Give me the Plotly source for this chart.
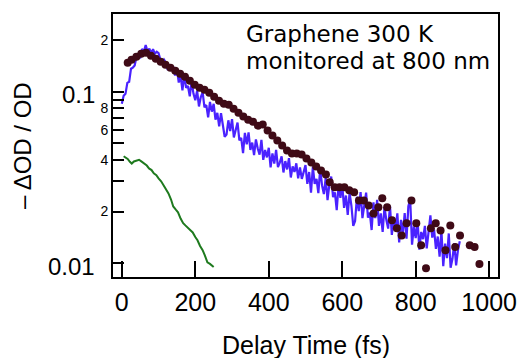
import math
import plotly.graph_objects as go

# ---------------- data ----------------
# brown dots: Graphene 300 K, probe 800 nm
dots_t = [16, 26.5, 39.7, 52.9, 66.1, 79.4, 92.6, 105.8, 119, 132.3, 145.5, 158.7,
          171.9, 185.2, 198.4, 211.6, 224.9, 238.1, 251.3, 264.6, 277.8, 291, 304.2,
          317.5, 330.7, 343.9, 357.1, 370.4, 383.6, 396.8, 410, 423.3, 436.5, 449.7,
          463, 476.2, 489.4, 502.6, 515.9, 529.1, 542.3, 555.6, 566, 579.4, 592.6,
          605.8, 619, 632.3, 645.5, 658.7, 672, 685.2, 698.4, 709, 722.2, 735.4,
          748.7, 761.9, 775.1, 788.4, 801.6, 814.8, 828, 841.3, 854.5, 867.7, 881,
          894.2, 907.4, 920.6, 947.1, 960.3, 973.5]
dots_v = [0.1474, 0.1535, 0.1598, 0.1663, 0.1685, 0.162, 0.1555, 0.1494, 0.1435,
          0.1379, 0.1325, 0.1272, 0.1222, 0.1159, 0.1098, 0.1055, 0.1027, 0.0987,
          0.0935, 0.0886, 0.0851, 0.084, 0.0796, 0.0755, 0.0716, 0.0687, 0.0669,
          0.0634, 0.0643, 0.0593, 0.0555, 0.0519, 0.0485, 0.0454, 0.0436, 0.0436,
          0.043, 0.0408, 0.0387, 0.0366, 0.0347, 0.0329, 0.0296, 0.0277, 0.0277,
          0.0277, 0.0266, 0.0259, 0.0232, 0.0232, 0.0217, 0.0195, 0.0212, 0.0239,
          0.0212, 0.0178, 0.016, 0.0145, 0.0171, 0.0232, 0.0171, 0.0127, 0.00935,
          0.016, 0.0171, 0.0155, 0.0119, 0.0166, 0.0124, 0.0145, 0.0127, 0.0124,
          0.00987]

# blue trace (5 fs sampling)
blue_t = list(range(0, 925, 5))
blue_v = [
    # 0 - 145 fs
    0.085, 0.0946, 0.0972, 0.1126, 0.1142, 0.1362, 0.1383, 0.1421, 0.160, 0.1629,
    0.1567, 0.1778, 0.1715, 0.1869, 0.1716, 0.1784, 0.1673, 0.1768, 0.1667, 0.1712,
    0.1677, 0.1541, 0.1469, 0.1538, 0.1478, 0.134, 0.1446, 0.1333, 0.1399, 0.1244,
    # 150 - 495 fs
    0.1361, 0.1132, 0.1236, 0.1018, 0.1254, 0.1055, 0.108, 0.0939, 0.1154, 0.0975,
    0.0892, 0.1013, 0.082, 0.093, 0.099, 0.0811, 0.0836, 0.0709, 0.0872, 0.0765,
    0.085, 0.0687, 0.0753, 0.0627, 0.0749, 0.0656, 0.0546, 0.0562, 0.0681, 0.059,
    0.0691, 0.0541, 0.0596, 0.0661, 0.052, 0.0538, 0.0438, 0.0575, 0.0494, 0.0579,
    0.0457, 0.0505, 0.0427, 0.0527, 0.0466, 0.0429, 0.0523, 0.040, 0.0457, 0.0414,
    0.0471, 0.0362, 0.0437, 0.0381, 0.0458, 0.0363, 0.0386, 0.042, 0.0338, 0.0394,
    0.0352, 0.041, 0.0316, 0.0367, 0.034, 0.0382, 0.0312, 0.0362, 0.031, 0.0337,
    # 500 - 920 fs
    0.0373, 0.029, 0.034, 0.0258, 0.0365, 0.029, 0.031, 0.0256, 0.0356, 0.0284,
    0.0253, 0.0314, 0.0233, 0.0288, 0.032, 0.0243, 0.0259, 0.0204, 0.0286, 0.024,
    0.0285, 0.021, 0.0248, 0.0191, 0.0258, 0.0216, 0.0165, 0.0176, 0.0244, 0.0201,
    0.026, 0.0183, 0.0218, 0.0258, 0.0184, 0.0197, 0.0156, 0.0226, 0.0183, 0.0234,
    0.0165, 0.0195, 0.0152, 0.0213, 0.0179, 0.0159, 0.0216, 0.0146, 0.0181, 0.0158,
    0.0195, 0.0132, 0.0179, 0.0147, 0.0196, 0.0139, 0.0215, 0.0235, 0.0128, 0.0164,
    0.014, 0.0177, 0.012, 0.0152, 0.0138, 0.0165, 0.0122, 0.0155, 0.019, 0.0141,
    0.0157, 0.0121, 0.0143, 0.0109, 0.0155, 0.0096, 0.013, 0.0107, 0.0149, 0.0094,
    0.0106, 0.0131, 0.0097, 0.0119, 0.0134]

# green trace
green_t = [5, 10, 16, 22, 27, 33, 40, 47, 54, 61, 68, 74, 81, 87, 94, 100, 107, 114,
           120, 127, 134, 140, 147, 153, 160, 167, 173, 180, 186, 193, 200, 206, 213,
           220, 226, 233, 240, 246, 250]
green_v = [0.042, 0.0415, 0.0405, 0.039, 0.0381, 0.0392, 0.0398, 0.0401, 0.0391,
           0.0382, 0.0371, 0.0357, 0.0349, 0.0334, 0.0326, 0.0312, 0.0300, 0.0284,
           0.0272, 0.0255, 0.0235, 0.0214, 0.0205, 0.0198, 0.0182, 0.0171, 0.0166,
           0.0160, 0.0157, 0.0151, 0.0142, 0.0136, 0.0126, 0.0119, 0.0111, 0.0101,
           0.0099, 0.0097, 0.0095]

x_ticks = [0, 200, 400, 600, 800, 1000]
y_ticks = [0.01, 0.02, 0.03, 0.04, 0.05, 0.06, 0.07, 0.08, 0.09, 0.1, 0.2]
y_ticktext = ['', '2', '', '4', '', '6', '', '8', '', '', '2']
y_big_labels = [(0.1, '0.1'), (0.01, '0.01')]
x_range = [-24, 1024]
y_range = [0.0083, 0.284]

AX_FONT = 'Liberation Sans, Arial, sans-serif'

fig = go.Figure()
fig.add_trace(go.Scatter(x=green_t, y=green_v, mode='lines',
                         line=dict(color='#1e7a1e', width=2), showlegend=False))
fig.add_trace(go.Scatter(x=blue_t, y=blue_v, mode='lines',
                         line=dict(color='#4a22ff', width=2.2), showlegend=False))
fig.add_trace(go.Scatter(x=dots_t, y=dots_v, mode='markers',
                         marker=dict(color='#3f0a16', size=8), showlegend=False))

fig.update_layout(
    width=529, height=358,
    margin=dict(l=113, r=20, t=13, b=81),
    paper_bgcolor='white', plot_bgcolor='white',
    font=dict(family=AX_FONT, color='black'),
    xaxis=dict(range=x_range, tickvals=x_ticks, ticks='inside', ticklen=16,
               tickwidth=2, tickcolor='black', showline=True, linecolor='black',
               linewidth=2, mirror=True, showgrid=False, zeroline=False,
               tickfont=dict(size=25, family=AX_FONT), ticklabelstandoff=2),
    yaxis=dict(type='log', range=[math.log10(y_range[0]), math.log10(y_range[1])],
               tickvals=y_ticks, ticktext=y_ticktext, ticks='inside', ticklen=11,
               tickwidth=2, tickcolor='black', showline=True, linecolor='black',
               linewidth=2, mirror=True, showgrid=False, zeroline=False,
               tickfont=dict(size=14, family=AX_FONT), ticklabelstandoff=0),
)

for val, txt in y_big_labels:
    fig.add_annotation(x=0, xref='paper', xanchor='right', xshift=-16,
                       y=math.log10(val), yref='y', yanchor='middle', yshift=-3,
                       text=txt, showarrow=False,
                       font=dict(size=24, family=AX_FONT, color='black'))

fig.add_annotation(x=-0.235, xref='paper', xanchor='center', y=0.5, yref='paper',
                   yanchor='middle', text='– ΔOD / OD', textangle=-90, showarrow=False,
                   font=dict(size=24, family=AX_FONT, color='black'))
fig.add_annotation(x=0.5, xref='paper', xanchor='center', y=-0.258, yref='paper',
                   yanchor='middle', text='Delay Time (fs)', showarrow=False,
                   font=dict(size=25, family=AX_FONT, color='black'))

fig.add_annotation(x=0.341, xref='paper', xanchor='left', y=0.925, yref='paper',
                   yanchor='middle', text='Graphene 300 K', showarrow=False,
                   font=dict(size=23, family='DejaVu Sans', color='black'))
fig.add_annotation(x=0.341, xref='paper', xanchor='left', y=0.822, yref='paper',
                   yanchor='middle', text='monitored at 800 nm', showarrow=False,
                   font=dict(size=23, family='DejaVu Sans', color='black'))

fig.write_html('out.html', config={'displayModeBar': False},
               post_script="document.body.style.margin='0px';")
